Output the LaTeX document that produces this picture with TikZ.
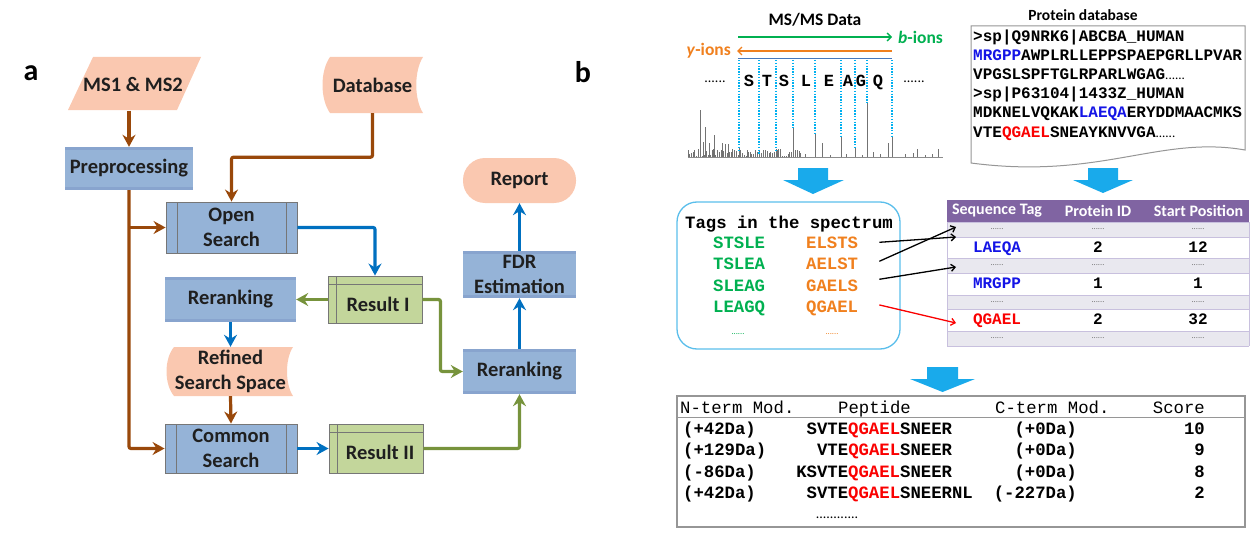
\documentclass[tikz,border=0pt]{standalone}
\usepackage{fontspec}
\setmainfont{Carlito}
\newfontfamily\mono{Liberation Mono}
\usetikzlibrary{arrows.meta,calc}

\definecolor{salmon}{RGB}{250,200,176}
\definecolor{procblue}{RGB}{149,179,215}
\definecolor{stripeblue}{RGB}{136,164,206}
\definecolor{resgreen}{RGB}{195,214,155}
\definecolor{brownc}{RGB}{153,72,10}
\definecolor{bluec}{RGB}{0,112,192}
\definecolor{greenc}{RGB}{119,147,60}
\definecolor{boxgrey}{RGB}{118,118,118}
\definecolor{ionsgreen}{RGB}{0,176,80}
\definecolor{ionsorange}{RGB}{240,128,30}
\definecolor{dotcyan}{RGB}{0,176,240}
\definecolor{bigarrow}{RGB}{25,170,235}
\definecolor{seqblue}{RGB}{20,20,230}
\definecolor{seqred}{RGB}{250,0,0}
\definecolor{tagbox}{RGB}{90,190,235}
\definecolor{purplehead}{RGB}{128,100,162}
\definecolor{rowgrey}{RGB}{233,232,239}
\definecolor{rowline}{RGB}{200,192,222}
\definecolor{docgrey}{RGB}{150,150,150}
\definecolor{specline}{RGB}{70,120,190}

\newcommand{\flowfont}{\fontsize{20.5}{25.5}\selectfont\bfseries}
\newcommand{\dbfont}{\mono\bfseries\fontsize{16}{16}\selectfont}
\newcommand{\tagfont}{\mono\bfseries\fontsize{17.3}{17.3}\selectfont}
\newcommand{\reshfont}{\mono\fontsize{17.3}{17.3}\selectfont}
\newcommand{\smalldots}{\fontsize{8.5}{8.5}\selectfont}

\tikzset{
  flowtext/.style={font=\flowfont, text=black!88, align=center, inner sep=0pt},
  proc/.style={flowtext, rectangle, fill=procblue,
    path picture={
      \fill[stripeblue] (path picture bounding box.north west) rectangle ([yshift=-3pt]path picture bounding box.north east);
      \fill[stripeblue] (path picture bounding box.south west) rectangle ([yshift=3pt]path picture bounding box.south east);}},
  subr/.style={flowtext, rectangle, fill=procblue, draw=boxgrey, line width=0.9pt,
    path picture={
      \draw[boxgrey, line width=0.9pt] ([xshift=11pt]path picture bounding box.north west) -- ([xshift=11pt]path picture bounding box.south west);
      \draw[boxgrey, line width=0.9pt] ([xshift=-11pt]path picture bounding box.north east) -- ([xshift=-11pt]path picture bounding box.south east);}},
  storebox/.style={rectangle, fill=resgreen, draw=boxgrey, line width=0.9pt, inner sep=0pt,
    path picture={
      \draw[boxgrey, line width=0.9pt] ([xshift=8.5pt]path picture bounding box.north west) -- ([xshift=8.5pt]path picture bounding box.south west);
      \draw[boxgrey, line width=0.9pt] ([yshift=-8pt]path picture bounding box.north west) -- ([yshift=-8pt]path picture bounding box.north east);}},
  arr/.style={line width=3.2pt, rounded corners=2pt, -{Stealth[length=12pt,width=13pt,inset=4pt]}},
  brownarr/.style={arr, draw=brownc},
  bluearr/.style={arr, draw=bluec},
  greenarr/.style={arr, draw=greenc},
  tagarr/.style={line width=1.3pt, -{Straight Barb[length=4pt,width=7pt]}},
  mono16/.style={font=\dbfont, inner sep=0pt},
  tagt/.style={font=\tagfont, anchor=base west, inner sep=1pt},
  cell/.style={font=\dbfont, anchor=base, inner sep=0pt},
  hcell/.style={font=\fontsize{16}{16}\selectfont\bfseries, text=white, inner sep=0pt},
  dcell/.style={font=\smalldots, text=black!55, inner sep=0pt},
  rest/.style={font=\tagfont, inner sep=0pt},
  resh/.style={font=\reshfont, inner sep=0pt},
}

\begin{document}
\begin{tikzpicture}[x=1pt,y=-1pt]
\useasboundingbox (0,0) rectangle (1251,535);

% ---------- panel a ----------
\node[font=\fontsize{30}{30}\selectfont\bfseries] (la) at (31,73) {a};
\node[font=\fontsize{30}{30}\selectfont\bfseries] (lb) at (583,72) {b};

\fill[salmon] (93,57) -- (201,57) -- (177,110) -- (68,110) -- cycle;
\fill[salmon] (330,57) -- (423,57) .. controls (414,71) and (414,99) .. (423,113) -- (330,113) .. controls (320,99) and (320,71) .. (330,57) -- cycle;
\fill[salmon] (174,347) -- (293,347) .. controls (285,359) and (285,384) .. (293,396) -- (174,396) .. controls (164,384) and (164,359) .. (174,347) -- cycle;

\node[flowtext, minimum width=108pt, minimum height=53pt] (ms) at (133,84) {MS1 \& MS2};
\node[flowtext, minimum width=101pt, minimum height=56pt] (db) at (372.5,85) {Database};
\node[proc, minimum width=128pt, minimum height=43pt] (pre) at (129,168.5) {Preprocessing};
\node[subr, minimum width=131pt, minimum height=51pt] (os) at (231.5,227.5) {Open\\Search};
\node[proc, minimum width=131pt, minimum height=45pt] (rr1) at (230.5,299.5) {Reranking};
\node[storebox, minimum width=94pt, minimum height=47pt,
  label={[flowtext, xshift=3pt, yshift=-4.5pt]center:Result I}] (r1) at (375,299.5) {};
\node[flowtext, minimum width=125pt, minimum height=49pt] (rs) at (230.5,371.5) {Refined\\Search Space};
\node[subr, minimum width=132pt, minimum height=49pt] (cs) at (231,448.5) {Common\\Search};
\node[storebox, minimum width=94pt, minimum height=49pt,
  label={[flowtext, xshift=4pt, yshift=-4pt]center:Result II}] (r2) at (376,448.5) {};
\node[proc, minimum width=113pt, minimum height=45pt] (rr2) at (519.5,371.5) {Reranking};
\node[proc, minimum width=113pt, minimum height=47pt] (fdr) at (519.5,274.5) {FDR\\Estimation};
\node[flowtext, fill=salmon, rounded corners=22pt, minimum width=113pt, minimum height=45pt] (rep) at (519.5,180.5) {Report};

\draw[brownarr] (ms.south -| pre.north) -- (pre.north);
\draw[brownarr] (pre.south) |- (cs.west);
\draw[brownarr] (pre.south |- os.west) -- (os.west);
\draw[brownarr] (db.south) -- ++(0,44) -| (os.north);
\draw[bluearr] (os.east) -| (r1.north);
\draw[greenarr] (r1.west) -- (rr1.east);
\draw[bluearr] (rr1.south) -- (rs.north);
\draw[brownarr] (rs.south) -- (cs.north);
\draw[bluearr] (cs.east) -- (r2.west);
\draw[greenarr] (r2.east) -| (rr2.south);
\draw[greenarr] (r1.east) -- ++(18,0) |- (rr2.west);
\draw[bluearr] (rr2.north) -- (fdr.south);
\draw[bluearr] (fdr.north) -- (rep.south);

% ---------- panel b : spectrum ----------
\node[font=\fontsize{17.5}{17.5}\selectfont\bfseries] (msms) at (815,20) {MS/MS Data};
\node[font=\fontsize{17.5}{17.5}\selectfont\bfseries, text=ionsgreen, anchor=west, inner sep=0pt] (bion) at (898,37) {\textit{b}-ions};
\node[font=\fontsize{17.5}{17.5}\selectfont\bfseries, text=ionsorange, anchor=east, inner sep=0pt] (yion) at (731,51) {\textit{y}-ions};
\coordinate (bs) at (738,37);
\coordinate (be) at (892,37);
\coordinate (ys) at (892,51);
\coordinate (ye) at (737,51);
\draw[ionsgreen, line width=1.4pt, -{Straight Barb[length=4pt,width=8pt]}] (bs) -- (be);
\draw[ionsorange, line width=1.4pt, -{Straight Barb[length=4pt,width=8pt]}] (ys) -- (ye);
\draw[specline, line width=1pt] (738,59) -- (892,59);

% spectrum baseline and noise
\draw[black!45, line width=0.7pt] (688,157) -- (943,157);
\pgfmathsetseed{12}
\foreach \i in {0,...,58} {
  \pgfmathsetmacro{\xx}{689+\i*1.9}
  \pgfmathsetmacro{\hh}{156-7*rnd}
  \draw[black!55, line width=0.6pt] (\xx,157) -- (\xx,\hh);
}
\foreach \xx/\hh in {805/154,830/155,846/154,862/155,880/154,905/154,925/155,932/154} {
  \draw[black!55, line width=0.6pt] (\xx,157) -- (\xx,\hh);
}
\foreach \xx/\hh in {688/150,693/153,700/110,703/142,705/127,709/143,712/150,714/135,717/150,722/143,725/144,728/144,732/152,739/148,747/150,759/155,777/150,793/128,800/153,815/133,822/143,841/137,855/147,867/103,873/152,888/143,892/137,913/153,917/149,938/149} {
  \draw[black!55, line width=0.8pt] (\xx,157) -- (\xx,\hh);
}
\foreach \xx/\hh in {739/150,759/155,776/150,793/128,815/133,841/137,855/147,867/103,892/137} {
  \draw[dotcyan, line width=1.3pt, dash pattern=on 1.4pt off 1.4pt] (\xx,60) -- (\xx,\hh);
}
\foreach \c/\xx in {S/749,T/767,S/784,L/806,E/829,A/848,G/861,Q/878} {
  \node[font=\mono\bfseries\fontsize{17}{17}\selectfont, anchor=base, inner sep=0pt] at (\xx,87) {\c};
}
\node[font=\fontsize{14}{14}\selectfont, anchor=base, inner sep=0pt] (ldots) at (715,83) {......};
\node[font=\fontsize{14}{14}\selectfont, anchor=base, inner sep=0pt] (rdots) at (914,83) {......};

% ---------- protein database ----------
\node[font=\fontsize{15.5}{15.5}\selectfont\bfseries] (pdbt) at (1083,15) {Protein database};
\draw[docgrey, line width=1pt, fill=white] (971,26) -- (1245,26) -- (1245,150) .. controls (1160,135) and (1100,180) .. (971,163) -- cycle;
\node[mono16, anchor=base west] (p1) at (973,41.5) {>sp|Q9NRK6|ABCBA\_HUMAN};
\node[mono16, anchor=base west] (p2) at (973,60.5) {{\color{seqblue}MRGPP}AWPLRLLEPPSPAEPGRLLPVAR};
\node[mono16, anchor=base west] (p3) at (973,79.5) {VPGSLSPFTGLRPARLWGAG{\rmfamily\mdseries\fontsize{13}{13}\selectfont......}};
\node[mono16, anchor=base west] (p4) at (973,98.5) {>sp|P63104|1433Z\_HUMAN};
\node[mono16, anchor=base west] (p5) at (973,117.5) {MDKNELVQKAK{\color{seqblue}LAEQA}ERYDDMAACMKS};
\node[mono16, anchor=base west] (p6) at (973,137.5) {VTE{\color{seqred}QGAEL}SNEAYKNVVGA{\rmfamily\mdseries\fontsize{13}{13}\selectfont......}};

% ---------- block arrows ----------
\fill[bigarrow] (798,168) -- (828,168) -- (828,180) -- (844,180) -- (813,194) -- (783,180) -- (798,180) -- cycle;
\fill[bigarrow] (1088,168) -- (1118,168) -- (1118,180) -- (1133,180) -- (1103,193) -- (1073,180) -- (1088,180) -- cycle;
\fill[bigarrow] (927,367) -- (958,367) -- (958,379) -- (975,379) -- (942.5,392) -- (910,379) -- (927,379) -- cycle;

% ---------- tags box ----------
\draw[tagbox, line width=1.3pt, rounded corners=20pt] (677,202) rectangle (900,349);
\node[tagt] (tth) at (684,228) {Tags in the spectrum};
\node[tagt, text=ionsgreen] (g1) at (712,248) {STSLE};
\node[tagt, text=ionsgreen] (g2) at (712,269) {TSLEA};
\node[tagt, text=ionsgreen] (g3) at (712,291) {SLEAG};
\node[tagt, text=ionsgreen] (g4) at (712,312) {LEAGQ};
\node[tagt, text=ionsorange] (o1) at (805,248) {ELSTS};
\node[tagt, text=ionsorange] (o2) at (805,269) {AELST};
\node[tagt, text=ionsorange] (o3) at (805,291) {GAELS};
\node[tagt, text=ionsorange] (o4) at (805,312) {QGAEL};
\node[font=\smalldots, text=ionsgreen, anchor=base, inner sep=0pt] (gd) at (738,334) {......};
\node[font=\smalldots, text=ionsorange, anchor=base, inner sep=0pt] (od) at (832,334) {......};

% ---------- tag table ----------
\fill[purplehead] (947,200) rectangle (1249,222);
\foreach \ya/\yb in {222/237,258/273,295/309,331/346} {
  \fill[rowgrey] (947,\ya) rectangle (1249,\yb);
}
\foreach \yy in {222,237,258,273,295,309,331,346} {
  \draw[rowline, line width=1pt] (947,\yy) -- (1249,\yy);
}
\draw[rowline, line width=1pt] (947,222) -- (947,346);
\draw[rowline, line width=1pt] (1249,222) -- (1249,346);
\node[hcell] (h1) at (997,211) {Sequence Tag};
\node[hcell] (h2) at (1098,211) {Protein ID};
\node[hcell] (h3) at (1198.5,211) {Start Position};
\foreach \yy in {229.5,265.5,302,338.5} {
  \node[dcell] at (997,\yy) {......};
  \node[dcell] at (1098,\yy) {......};
  \node[dcell] at (1198,\yy) {......};
}
\node[cell, text=seqblue] (t1) at (997,252) {LAEQA};
\node[cell] (t1b) at (1098,252) {2};
\node[cell] (t1c) at (1198,252) {12};
\node[cell, text=seqblue] (t2) at (997,288.5) {MRGPP};
\node[cell] (t2b) at (1098,288.5) {1};
\node[cell] (t2c) at (1198,288.5) {1};
\node[cell, text=seqred] (t3) at (997,324.5) {QGAEL};
\node[cell] (t3b) at (1098,324.5) {2};
\node[cell] (t3c) at (1198,324.5) {32};

\coordinate (e1) at (956,237);
\coordinate (e2) at (956,227);
\coordinate (e3) at (956,267);
\coordinate (e4) at (956,323);
\draw[tagarr, black] ([xshift=20pt,yshift=0pt]o1.east) -- (e1);
\draw[tagarr, black] ([xshift=20pt,yshift=2pt]o2.east) -- (e2);
\draw[tagarr, black] ([xshift=20pt,yshift=6pt]o3.east) -- (e3);
\draw[tagarr, seqred] ([xshift=20pt,yshift=3pt]o4.east) -- (e4);

% ---------- result table ----------
\draw[docgrey, line width=1.2pt] (677,396) rectangle (1245,527);
\draw[docgrey, line width=1pt] (677,417) -- (1245,417);
\node[resh, anchor=base west] (rh1) at (680,413) {N-term Mod.};
\node[resh, anchor=base west] (rh2) at (838,413) {Peptide};
\node[resh, anchor=base west] (rh3) at (995,413) {C-term Mod.};
\node[resh, anchor=base east] (rh4) at (1205,413) {Score};

\node[rest, anchor=base west] (n1) at (683,434) {(+42Da)};
\node[rest, anchor=base west] (n2) at (683,455) {(+129Da)};
\node[rest, anchor=base west] (n3) at (683,477) {(-86Da)};
\node[rest, anchor=base west] (n4) at (683,498) {(+42Da)};
\node[rest, anchor=base west] (q1) at (806.5,434) {SVTE{\color{seqred}QGAEL}SNEER};
\node[rest, anchor=base west] (q2) at (816.9,455) {VTE{\color{seqred}QGAEL}SNEER};
\node[rest, anchor=base west] (q3) at (796.1,477) {KSVTE{\color{seqred}QGAEL}SNEER};
\node[rest, anchor=base west] (q4) at (806.5,498) {SVTE{\color{seqred}QGAEL}SNEERNL};
\node[rest, anchor=base east] (c1) at (1077,434) {(+0Da)};
\node[rest, anchor=base east] (c2) at (1077,455) {(+0Da)};
\node[rest, anchor=base east] (c3) at (1077,477) {(+0Da)};
\node[rest, anchor=base east] (c4) at (1077,498) {(-227Da)};
\node[rest, anchor=base east] (s1) at (1205,434) {10};
\node[rest, anchor=base east] (s2) at (1205,455) {9};
\node[rest, anchor=base east] (s3) at (1205,477) {8};
\node[rest, anchor=base east] (s4) at (1205,498) {2};
\node[font=\fontsize{14}{14}\selectfont, anchor=base, inner sep=0pt] (rdd) at (837,518) {............};
\end{tikzpicture}
\end{document}
